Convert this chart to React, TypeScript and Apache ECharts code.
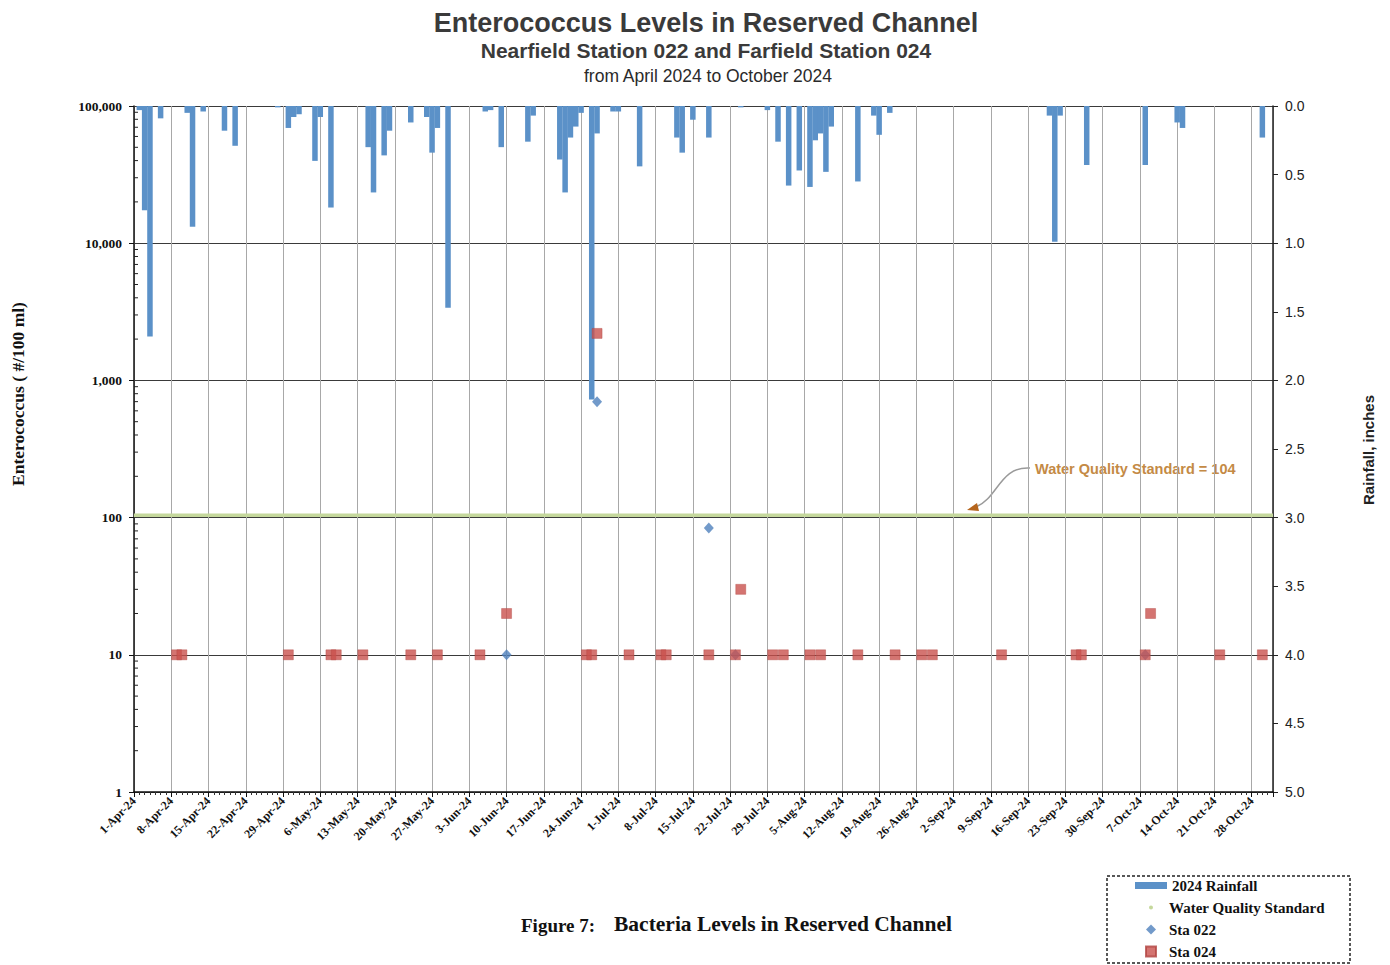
import React, { useEffect, useRef } from 'react';
import * as echarts from 'echarts';

// ---------- data ----------
const START_DATE = '2024-04-01';
const END_DATE = '2024-11-01';
const MONTHS = ['Jan', 'Feb', 'Mar', 'Apr', 'May', 'Jun', 'Jul', 'Aug', 'Sep', 'Oct', 'Nov', 'Dec'];

const rainDates = [
  '2024-04-02', '2024-04-03', '2024-04-04', '2024-04-06', '2024-04-11', '2024-04-12', '2024-04-14',
  '2024-04-18', '2024-04-20', '2024-04-28', '2024-04-30', '2024-05-01', '2024-05-02', '2024-05-05',
  '2024-05-06', '2024-05-08', '2024-05-15', '2024-05-16', '2024-05-18', '2024-05-19', '2024-05-23',
  '2024-05-26', '2024-05-27', '2024-05-28', '2024-05-30', '2024-06-06', '2024-06-07', '2024-06-09',
  '2024-06-14', '2024-06-15', '2024-06-20', '2024-06-21', '2024-06-22', '2024-06-23', '2024-06-24',
  '2024-06-26', '2024-06-27', '2024-06-30', '2024-07-01', '2024-07-05', '2024-07-12', '2024-07-13',
  '2024-07-15', '2024-07-18', '2024-07-24', '2024-07-29', '2024-07-31', '2024-08-02', '2024-08-04',
  '2024-08-06', '2024-08-07', '2024-08-08', '2024-08-09', '2024-08-10', '2024-08-15', '2024-08-18',
  '2024-08-19', '2024-08-21', '2024-09-20', '2024-09-21', '2024-09-22', '2024-09-27', '2024-10-08',
  '2024-10-14', '2024-10-15', '2024-10-30',
];
const rainInches = [
  0.03, 0.76, 1.68, 0.09, 0.05, 0.88, 0.04,
  0.18, 0.29, 0.01, 0.16, 0.08, 0.06, 0.40,
  0.08, 0.74, 0.30, 0.63, 0.36, 0.18, 0.12,
  0.08, 0.34, 0.16, 1.47, 0.04, 0.03, 0.30,
  0.26, 0.07, 0.39, 0.63, 0.23, 0.15, 0.05,
  2.14, 0.20, 0.04, 0.04, 0.44, 0.23, 0.34,
  0.10, 0.23, 0.01, 0.03, 0.26, 0.58, 0.47,
  0.59, 0.25, 0.20, 0.48, 0.15, 0.55, 0.07,
  0.21, 0.05, 0.07, 0.99, 0.07, 0.43, 0.43,
  0.12, 0.16, 0.23,
];

const sta022Dates = ['2024-06-10', '2024-06-27', '2024-07-18', '2024-07-23', '2024-10-08'];
const sta022Values = [10, 700, 84, 10, 10];

const sta024Dates = [
  '2024-04-09', '2024-04-10', '2024-04-30', '2024-05-08', '2024-05-09', '2024-05-14', '2024-05-23',
  '2024-05-28', '2024-06-05', '2024-06-10', '2024-06-25', '2024-06-26', '2024-06-27', '2024-07-03',
  '2024-07-09', '2024-07-10', '2024-07-18', '2024-07-23', '2024-07-24', '2024-07-30', '2024-08-01',
  '2024-08-06', '2024-08-08', '2024-08-15', '2024-08-22', '2024-08-27', '2024-08-29', '2024-09-11',
  '2024-09-25', '2024-09-26', '2024-10-08', '2024-10-09', '2024-10-22', '2024-10-30',
];
const sta024Values = [
  10, 10, 10, 10, 10, 10, 10,
  10, 10, 20, 10, 10, 2200, 10,
  10, 10, 10, 10, 30, 10, 10,
  10, 10, 10, 10, 10, 10, 10,
  10, 10, 10, 20, 10, 10,
];

const waterQualityStandard = 104;
const leftTicks = [1, 10, 100, 1000, 10000, 100000];
const logMinorTickValues = [1, 10, 100, 1000, 10000].flatMap((d) => [2, 3, 4, 5, 6, 7, 8, 9].map((m) => m * d));

// ---------- helpers ----------
const toUTC = (s: string) => {
  const [y, m, d] = s.split('-').map(Number);
  return Date.UTC(y, m - 1, d);
};
const dayOf = (s: string) => Math.round((toUTC(s) - toUTC(START_DATE)) / 86400000);
const dayLabel = (v: number) => {
  const dt = new Date(toUTC(START_DATE) + v * 86400000);
  return `${dt.getUTCDate()}-${MONTHS[dt.getUTCMonth()]}-${String(dt.getUTCFullYear()).slice(2)}`;
};

const SERIF = '"Liberation Serif", "DejaVu Serif", serif';
const SANS = '"Liberation Sans", Arial, sans-serif';

// legend icons drawn inside a fixed 26x10 box so they are not stretched
const ICON_DOT = 'path://M0,0M26,10M11,5a2,2 0 1,0 4,0a2,2 0 1,0 -4,0z';
const ICON_DIAMOND = 'path://M0,0M26,10M13,0L18,5L13,10L8,5Z';
const ICON_SQUARE = 'path://M0,0M26,10M8,0L18,0L18,10L8,10Z';

export default function App() {
  const ref = useRef<HTMLDivElement>(null);

  useEffect(() => {
    document.body.style.margin = '0';
    if (!ref.current) return;
    const chart = echarts.init(ref.current, null, { renderer: 'svg' });
    const maxDay = dayOf(END_DATE);
    const boldSerif = { fontFamily: SERIF, fontWeight: 'bold' as const, color: '#111' };

    const option: any = {
      animation: false,
      backgroundColor: '#ffffff',
      title: [
        {
          text: 'Enterococcus Levels in Reserved Channel',
          left: 701, top: 4, textAlign: 'center',
          textStyle: { fontFamily: SANS, fontWeight: 'bold', fontSize: 27, color: '#3a3a3a' },
        },
        {
          text: 'Nearfield Station 022 and Farfield Station 024',
          left: 701, top: 35, textAlign: 'center',
          textStyle: { fontFamily: SANS, fontWeight: 'bold', fontSize: 21, color: '#3a3a3a' },
        },
        {
          text: 'from April 2024 to October 2024',
          left: 703, top: 62, textAlign: 'center',
          textStyle: { fontFamily: SANS, fontWeight: 'normal', fontSize: 17.5, color: '#2a2a2a' },
        },
      ],
      grid: { left: 134, right: 117, top: 106, bottom: 173, containLabel: false, outerBoundsMode: 'none' },
      legend: [
        {
          data: [{ name: '2024 Rainfall', icon: 'rect' }],
          left: 1135, top: 878, itemWidth: 32, itemHeight: 7, padding: 0,
          textStyle: { ...boldSerif, fontSize: 15 },
        },
        {
          data: [
            { name: 'Water Quality Standard', icon: ICON_DOT },
            { name: 'Sta 022', icon: ICON_DIAMOND },
            { name: 'Sta 024', icon: ICON_SQUARE },
          ],
          orient: 'vertical', left: 1137, top: 900, itemWidth: 26, itemHeight: 10, itemGap: 7, padding: 0,
          textStyle: { ...boldSerif, fontSize: 15 },
        },
      ],
      xAxis: {
        type: 'value', min: 0, max: maxDay, interval: 7,
        axisLine: { show: true, onZero: false, lineStyle: { color: '#111', width: 1.5 } },
        axisTick: { show: true, length: 5, lineStyle: { color: '#111' } },
        minorTick: { show: true, splitNumber: 7, length: 3, lineStyle: { color: '#333' } },
        splitLine: { show: true, lineStyle: { color: '#a8a8a8', width: 1 } },
        minorSplitLine: { show: false },
        axisLabel: {
          rotate: 45, margin: 7, fontSize: 12, ...boldSerif, showMaxLabel: false,
          formatter: (v: number) => (v % 7 === 0 && v < maxDay ? dayLabel(v) : ''),
        },
      },
      yAxis: [
        {
          type: 'log', logBase: 10, min: leftTicks[0], max: leftTicks[leftTicks.length - 1], position: 'left',
          axisLine: { show: true, lineStyle: { color: '#111', width: 1.5 } },
          axisTick: { show: true, length: 5, lineStyle: { color: '#111' } },
          splitLine: { show: true, lineStyle: { color: '#3a3a3a', width: 1 } },
          axisLabel: { fontSize: 13.5, margin: 12, ...boldSerif, formatter: (v: number) => Number(v).toLocaleString('en-US') },
        },
        {
          type: 'value', min: 0, max: 5, interval: 0.5, inverse: true, position: 'right',
          axisLine: { show: true, lineStyle: { color: '#222', width: 1.5 } },
          axisTick: { show: true, length: 5, lineStyle: { color: '#222' } },
          splitLine: { show: false },
          axisLabel: { fontFamily: SANS, fontSize: 14, color: '#222', margin: 12, formatter: (v: number) => v.toFixed(1) },
        },
      ],
      series: [
        {
          name: '2024 Rainfall', type: 'bar', xAxisIndex: 0, yAxisIndex: 1, barWidth: 5.5,
          itemStyle: { color: '#5b91c8' },
          data: rainDates.map((d, i) => [dayOf(d), rainInches[i]]),
        },
        {
          name: 'Water Quality Standard', type: 'line', xAxisIndex: 0, yAxisIndex: 0, symbol: 'none',
          itemStyle: { color: '#c5d89c' },
          lineStyle: { color: '#c5d89c', width: 3.5 },
          data: [[0, waterQualityStandard], [maxDay, waterQualityStandard]],
        },
        {
          name: 'logMinorTicks', type: 'custom', xAxisIndex: 0, yAxisIndex: 0, silent: true, z: 5,
          data: logMinorTickValues.map((v) => [0, v]),
          renderItem: (_p: any, api: any) => {
            const pt = api.coord([0, api.value(1)]);
            return {
              type: 'line',
              shape: { x1: pt[0], y1: pt[1], x2: pt[0] + 4, y2: pt[1] },
              style: { stroke: '#222', lineWidth: 1 },
            };
          },
        },
        {
          name: 'Sta 022', type: 'scatter', xAxisIndex: 0, yAxisIndex: 0, symbol: 'diamond', symbolSize: [10, 11],
          itemStyle: { color: '#4f81bd' },
          data: sta022Dates.map((d, i) => [dayOf(d), sta022Values[i]]),
        },
        {
          name: 'Sta 024', type: 'scatter', xAxisIndex: 0, yAxisIndex: 0, symbol: 'rect', symbolSize: 10,
          itemStyle: { color: '#c9514e', borderColor: '#b24542', borderWidth: 0.5 },
          data: sta024Dates.map((d, i) => [dayOf(d), sta024Values[i]]),
        },
      ],
      graphic: [
        {
          type: 'text', x: 18, y: 394, rotation: Math.PI / 2,
          style: { text: 'Enterococcus ( #/100 ml)', fontFamily: SERIF, fontWeight: 'bold', fontSize: 17.5, fill: '#111', align: 'center', verticalAlign: 'middle' },
        },
        {
          type: 'text', x: 1368, y: 450, rotation: Math.PI / 2,
          style: { text: 'Rainfall, inches', fontFamily: SANS, fontWeight: 'bold', fontSize: 15, fill: '#222', align: 'center', verticalAlign: 'middle' },
        },
        {
          type: 'text', x: 1035, y: 469,
          style: { text: 'Water Quality Standard = 104', fontFamily: SANS, fontWeight: 'bold', fontSize: 14.5, fill: '#c48a45', align: 'left', verticalAlign: 'middle' },
        },
        {
          type: 'bezierCurve',
          shape: { x1: 1030, y1: 468, cpx1: 1000, cpy1: 466, cpx2: 998, cpy2: 498, x2: 976, y2: 507 },
          style: { stroke: '#9a9a9a', lineWidth: 1.5, fill: 'none' },
        },
        {
          type: 'polygon',
          shape: { points: [[967, 510], [977, 503], [979, 511]] },
          style: { fill: '#b5651d' },
        },
        {
          type: 'text', x: 521, y: 925,
          style: { text: 'Figure 7:', fontFamily: SERIF, fontWeight: 'bold', fontSize: 19, fill: '#111', align: 'left', verticalAlign: 'middle' },
        },
        {
          type: 'text', x: 614, y: 924,
          style: { text: 'Bacteria Levels in Reserved Channel', fontFamily: SERIF, fontWeight: 'bold', fontSize: 21.5, fill: '#111', align: 'left', verticalAlign: 'middle' },
        },
        {
          type: 'rect',
          shape: { x: 1107, y: 876, width: 243, height: 87 },
          style: { fill: 'none', stroke: '#222', lineWidth: 1.5, lineDash: [3, 2] },
        },
      ],
    };

    chart.setOption(option);
    return () => chart.dispose();
  }, []);

  return <div ref={ref} style={{ width: 1390, height: 965 }} />;
}
